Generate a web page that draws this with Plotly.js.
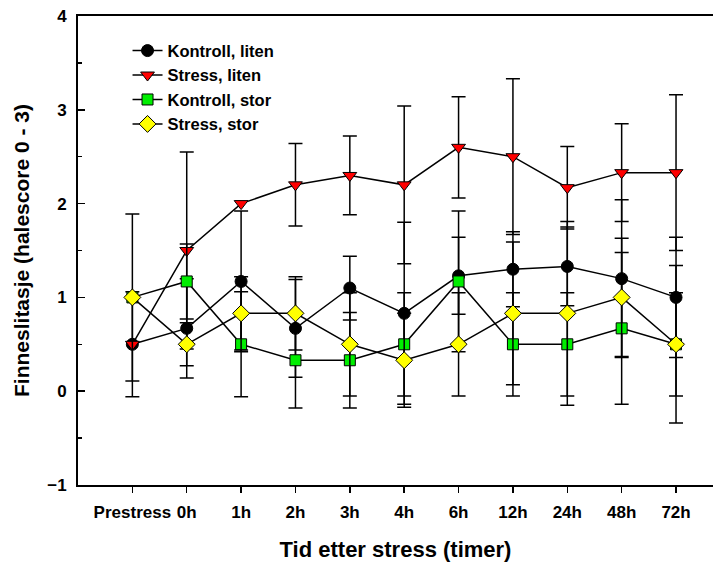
<!DOCTYPE html>
<html>
<head>
<meta charset="utf-8">
<script src="https://cdn.plot.ly/plotly-3.0.1.min.js"></script>
<style>html,body{margin:0;padding:0;background:#fff;}#chart{width:713px;height:564px;}</style>
</head>
<body>
<div id="chart"></div>
<script>
var categories = ["Prestress","0h","1h","2h","3h","4h","6h","12h","24h","48h","72h"];

var kontrollLiten   = [0.5, 0.67, 1.17, 0.67, 1.1, 0.83, 1.23, 1.3, 1.33, 1.2, 1.0];
var kontrollLitenSD = [0.56, 0.53, 0.75, 0.52, 0.34, 0.97, 0.41, 0.4, 0.42, 0.84, 0.64];

var stressLiten     = [0.5, 1.5, 2.0, 2.2, 2.3, 2.2, 2.6, 2.5, 2.17, 2.33, 2.33];
var stressLitenSD   = [0, 1.05, 0, 0.44, 0.42, 0.84, 0.54, 0.83, 0.44, 0.52, 0.83];

var kontrollStor    = [1.0, 1.17, 0.5, 0.33, 0.33, 0.5, 1.17, 0.5, 0.5, 0.67, 0.5];
var kontrollStorSD  = [0, 0.4, 0.56, 0.51, 0.51, 0.55, 0.75, 0.55, 0.55, 0.81, 0.55];

var stressStor      = [1.0, 0.5, 0.83, 0.83, 0.5, 0.33, 0.5, 0.83, 0.83, 1.0, 0.5];
var stressStorSD    = [0.89, 0.23, 0.39, 0.39, 0.55, 0.5, 0.55, 0.76, 0.98, 0.63, 0.84];

var seriesNames = ["Kontroll, liten", "Stress, liten", "Kontroll, stor", "Stress, stor"];

var FONT = "Liberation Sans, Arial, sans-serif";
var xIdx = categories.map(function(c, i){ return i; });

function mk(name, y, sd, sym, color, size) {
  return {
    type: "scatter", mode: "lines+markers", name: name,
    x: xIdx, y: y,
    line: {color: "#000", width: 1.5},
    marker: {symbol: sym, color: color, size: size, line: {color: "#000", width: 1}},
    error_y: {type: "data", array: sd.map(function(v){ return v === 0 ? NaN : v; }),
              visible: true, color: "#000", thickness: 1.5, width: 7}
  };
}

var data = [
  mk(seriesNames[0], kontrollLiten, kontrollLitenSD, "circle", "#000000", 12),
  mk(seriesNames[1], stressLiten, stressLitenSD, "triangle-down", "#ff0000", 12),
  mk(seriesNames[2], kontrollStor, kontrollStorSD, "square", "#00ee00", 11),
  mk(seriesNames[3], stressStor, stressStorSD, "diamond", "#ffff00", 13)
];

var layout = {
  width: 713, height: 564,
  margin: {l: 78, r: 0, t: 16, b: 79},
  paper_bgcolor: "#fff", plot_bgcolor: "#fff",
  font: {family: FONT, color: "#000", size: 15, weight: 700},
  showlegend: true,
  legend: {x: 0.078, y: 0.963, xanchor: "left", yanchor: "top",
           bgcolor: "rgba(0,0,0,0)", font: {family: FONT, size: 16.5, weight: 700}},
  xaxis: {
    range: [-1, 10.68], tickmode: "array", tickvals: xIdx, ticktext: categories,
    showgrid: false, zeroline: false, showline: true, linecolor: "#000", linewidth: 2,
    mirror: true, ticks: "outside", ticklen: 6, tickwidth: 1.5, tickcolor: "#000",
    tickfont: {family: FONT, size: 17, weight: 700},
    ticklabelstandoff: 5,
    title: {text: "Tid etter stress (timer)", font: {family: FONT, size: 22, weight: 700}, standoff: 20}
  },
  yaxis: {
    range: [-1, 4], dtick: 1, tick0: 0,
    showgrid: false, zeroline: false, showline: true, linecolor: "#000", linewidth: 2,
    ticks: "inside", ticklen: 7, tickwidth: 1.5, tickcolor: "#000",
    minor: {dtick: 0.5, ticks: "inside", ticklen: 4, tickwidth: 1.5, tickcolor: "#000", showgrid: false},
    tickfont: {family: FONT, size: 17, weight: 700},
    ticklabelstandoff: 6,
    title: {text: "Finneslitasje (halescore 0 - 3)", font: {family: FONT, size: 21, weight: 700}, standoff: 12}
  }
};

Plotly.newPlot("chart", data, layout, {displayModeBar: false, staticPlot: true});
</script>
</body>
</html>
